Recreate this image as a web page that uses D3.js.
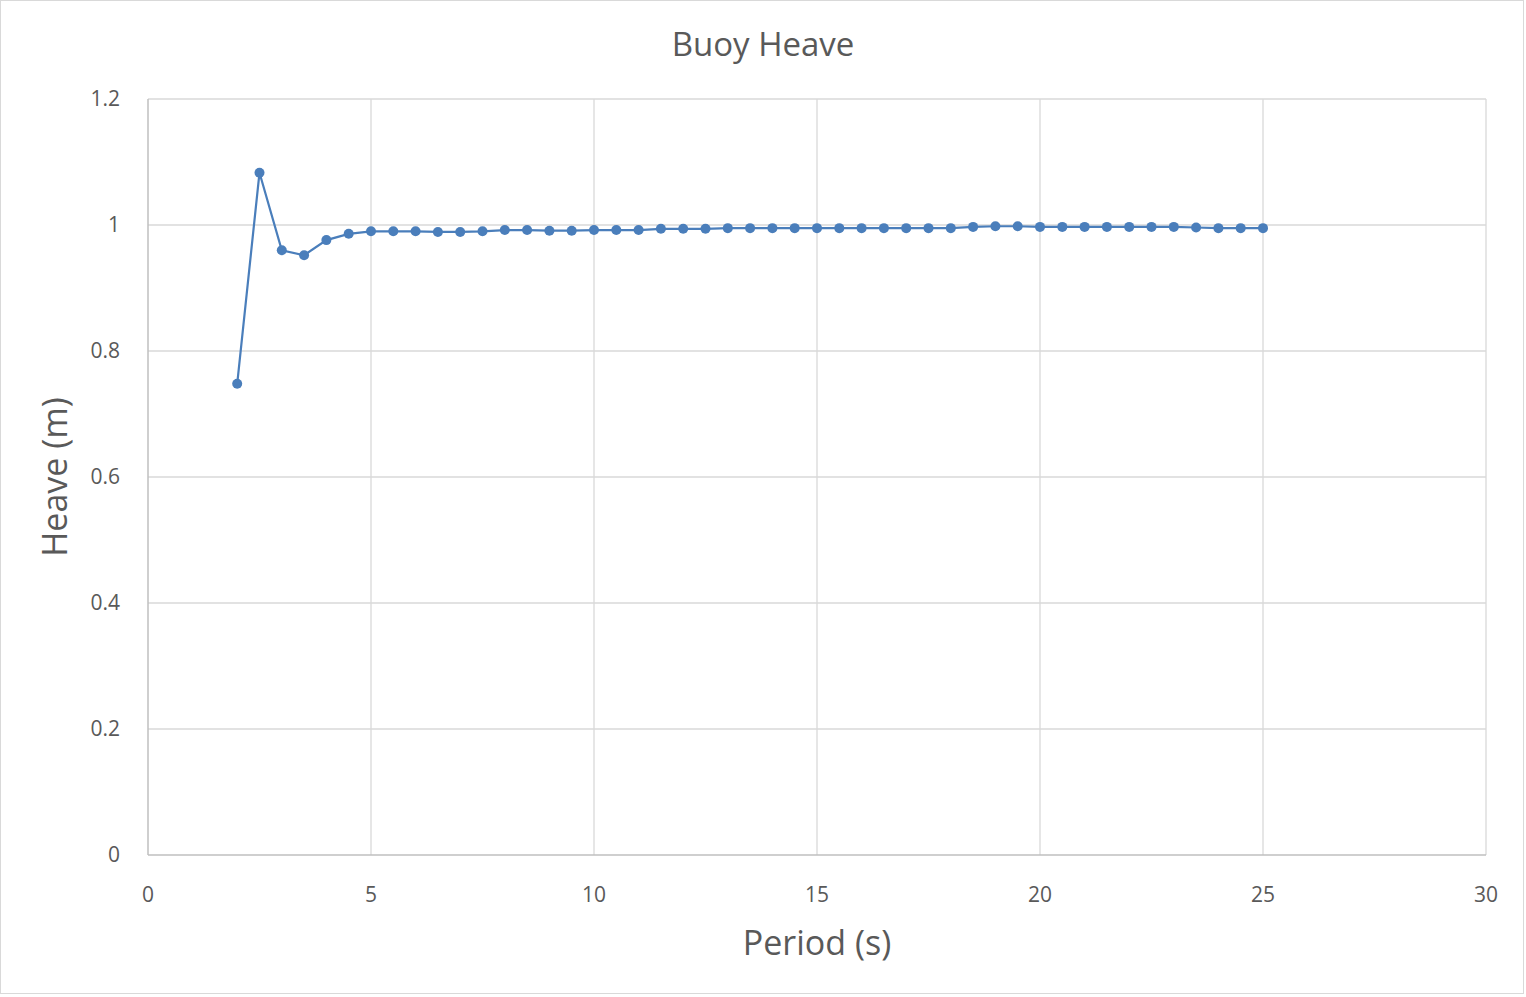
<!DOCTYPE html>
<html>
<head>
<meta charset="utf-8">
<script src="https://cdn.jsdelivr.net/npm/d3@7"></script>
<style>
  body { margin: 0; background: #fff; }
  svg { font-family: "Open Sans", "Liberation Sans", sans-serif; }
</style>
</head>
<body>
<div id="chart"></div>
<script>
const periods = d3.range(2, 25.01, 0.5);
const heave = [
  0.748, 1.083, 0.960, 0.952, 0.976, 0.986, 0.990, 0.990, 0.990, 0.989,
  0.989, 0.990, 0.992, 0.992, 0.991, 0.991, 0.992, 0.992, 0.992, 0.994,
  0.994, 0.994, 0.995, 0.995, 0.995, 0.995, 0.995, 0.995, 0.995, 0.995,
  0.995, 0.995, 0.995, 0.997, 0.998, 0.998, 0.997, 0.997, 0.997, 0.997,
  0.997, 0.997, 0.997, 0.996, 0.995, 0.995, 0.995
];
const xTicks = [0, 5, 10, 15, 20, 25, 30];
const yTicks = [0, 0.2, 0.4, 0.6, 0.8, 1, 1.2];

const W = 1526, H = 997;
const margin = {top: 99, right: 40, bottom: 142, left: 148};
const width = 1486 - margin.left, height = 855 - margin.top;

const svg = d3.select("#chart").append("svg")
  .attr("width", W).attr("height", H);

svg.append("rect")
  .attr("x", 0.5).attr("y", 0.5).attr("width", W - 3).attr("height", H - 4)
  .attr("fill", "#fff").attr("stroke", "#d9d9d9");

const g = svg.append("g").attr("transform", `translate(${margin.left},${margin.top})`);

const xScale = d3.scaleLinear().domain([0, 30]).range([0, width]);
const yScale = d3.scaleLinear().domain([0, 1.2]).range([height, 0]);

// gridlines
g.selectAll(".vgrid").data(xTicks.slice(1)).join("line")
  .attr("x1", d => xScale(d)).attr("x2", d => xScale(d))
  .attr("y1", 0).attr("y2", height)
  .attr("stroke", "#d9d9d9").attr("stroke-width", 1.3);
g.selectAll(".hgrid").data(yTicks.slice(1)).join("line")
  .attr("x1", 0).attr("x2", width)
  .attr("y1", d => yScale(d)).attr("y2", d => yScale(d))
  .attr("stroke", "#d9d9d9").attr("stroke-width", 1.3);

// axes
g.append("line").attr("x1", 0).attr("x2", width).attr("y1", height).attr("y2", height)
  .attr("stroke", "#bfbfbf").attr("stroke-width", 1.5);
g.append("line").attr("x1", 0).attr("x2", 0).attr("y1", 0).attr("y2", height)
  .attr("stroke", "#bfbfbf").attr("stroke-width", 1.5);

g.selectAll(".xlab").data(xTicks).join("text")
  .attr("x", d => xScale(d)).attr("y", height + 47)
  .attr("text-anchor", "middle").attr("font-size", 21).attr("fill", "#595959")
  .text(d => d);
g.selectAll(".ylab").data(yTicks).join("text")
  .attr("x", -28).attr("y", d => yScale(d) + 7)
  .attr("text-anchor", "end").attr("font-size", 21).attr("fill", "#595959")
  .text(d => d);

// line + markers
const pts = periods.map((p, i) => ({p, h: heave[i]}));
g.append("path").datum(pts)
  .attr("fill", "none").attr("stroke", "#4a7ebb").attr("stroke-width", 2.2)
  .attr("d", d3.line().x(d => xScale(d.p)).y(d => yScale(d.h)));
g.selectAll(".pt").data(pts).join("circle")
  .attr("cx", d => xScale(d.p)).attr("cy", d => yScale(d.h)).attr("r", 5)
  .attr("fill", "#4a7ebb");

// titles
svg.append("text").attr("x", 763).attr("y", 56).attr("text-anchor", "middle")
  .attr("font-size", 33).attr("fill", "#595959").text("Buoy Heave");
svg.append("text").attr("x", 817).attr("y", 955).attr("text-anchor", "middle")
  .attr("font-size", 34).attr("fill", "#595959").text("Period (s)");
svg.append("text").attr("transform", "translate(67,477) rotate(-90)")
  .attr("text-anchor", "middle").attr("font-size", 34).attr("fill", "#595959")
  .text("Heave (m)");
</script>
</body>
</html>
